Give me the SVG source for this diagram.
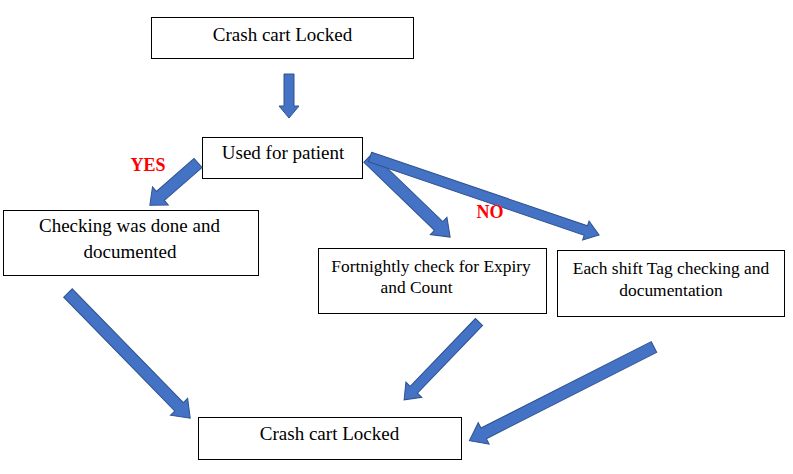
<svg xmlns="http://www.w3.org/2000/svg" width="793" height="474" viewBox="0 0 793 474">
<style>
.box{fill:#fff;stroke:#000;stroke-width:1}
.t{font-family:"Liberation Serif","Times New Roman",Times,serif;font-size:19px;fill:#000;text-anchor:middle}
.s{font-size:17.4px}
.lbl{font-family:"Liberation Serif","Times New Roman",Times,serif;font-size:18px;font-weight:bold;fill:#ff0000;text-anchor:middle}
.ar{fill:#4472c4;stroke:#2f528f;stroke-width:1}
</style>
<rect width="793" height="474" fill="#fff"/>
<g id="n1"><rect class="box" x="151.5" y="17.5" width="262" height="41"/><text class="t" x="282.5" y="41">Crash cart Locked</text></g>
<g id="n2"><rect class="box" x="202.5" y="137.5" width="160" height="41"/><text class="t" x="283" y="159">Used for patient</text></g>
<g id="n3"><rect class="box" x="3.5" y="210.5" width="255" height="65"/><text class="t" x="129.5" y="232">Checking was done and</text><text class="t" x="130" y="258">documented</text></g>
<g id="n4"><rect class="box" x="318.5" y="248.5" width="228" height="65"/><text class="t s" x="431" y="272">Fortnightly check for Expiry</text><text class="t s" x="416.5" y="293">and Count</text></g>
<g id="n5"><rect class="box" x="557.5" y="250.5" width="227" height="66"/><text class="t s" x="671" y="274">Each shift Tag checking and</text><text class="t s" x="671" y="296">documentation</text></g>
<g id="n6"><rect class="box" x="198.5" y="417.5" width="263" height="42"/><text class="t" x="329.5" y="440">Crash cart Locked</text></g>
<g id="connectors">
<polygon class="ar" transform="translate(289,74) rotate(90)" points="0,-5 32,-5 32,-10 44,0 32,10 32,5 0,5"/>
<polygon class="ar" transform="translate(198,163) rotate(138.8)" points="0,-6 50,-6 50,-12 64,0 50,12 50,6 0,6"/>
<polygon class="ar" transform="translate(368,158) rotate(43.9)" points="0,-6 98,-6 98,-12 114,0 98,12 98,6 0,6"/>
<polygon class="ar" transform="translate(370,157) rotate(18.8)" points="0,-5 228,-5 228,-10 242,0 228,10 228,5 0,5"/>
<polygon class="ar" transform="translate(68,293) rotate(45.7)" points="0,-6 159,-6 159,-12 175,0 159,12 159,6 0,6"/>
<polygon class="ar" transform="translate(479,322) rotate(133.9)" points="0,-5 94,-5 94,-11 108,0 94,11 94,5 0,5"/>
<polygon class="ar" transform="translate(654,347) rotate(153.1)" points="0,-6 191,-6 191,-12 207,0 191,12 191,6 0,6"/>
<text class="lbl" x="148" y="171">YES</text>
<text class="lbl" x="490" y="218">NO</text>
</g>
</svg>
